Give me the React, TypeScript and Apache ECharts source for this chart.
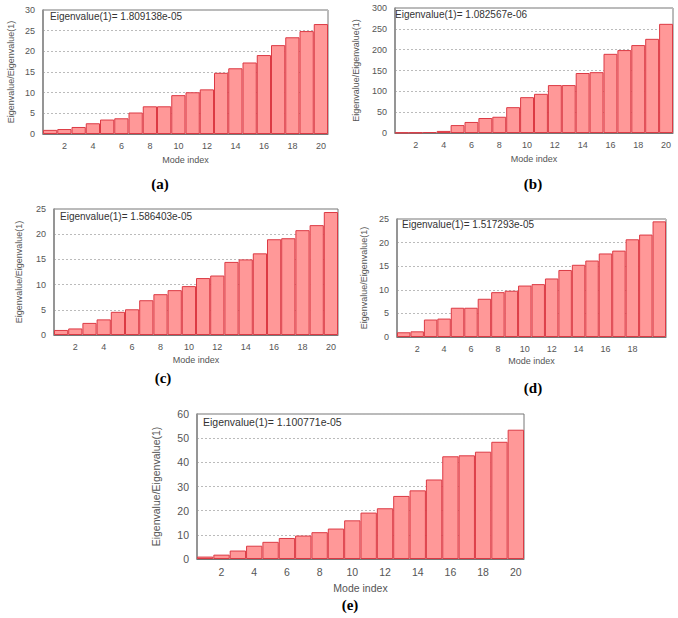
import React, { useEffect, useRef } from "react";
import * as echarts from "echarts";

const modes = Array.from({ length: 20 }, (_, i) => String(i + 1));

const valuesA = [1, 1.2, 1.7, 2.6, 3.5, 3.8, 5.2, 6.7, 6.7, 9.4, 10.1, 10.8, 14.8, 15.9, 17.3, 19.1, 21.5, 23.4, 24.9, 26.6];
const valuesB = [1, 1.2, 2.4, 5, 19, 26.5, 36, 39, 62, 86, 94, 115, 115, 144, 146, 190, 199, 211, 226, 262];
const valuesC = [1, 1.3, 2.4, 3.1, 4.6, 5.1, 6.9, 8.1, 8.9, 9.7, 11.3, 11.8, 14.5, 15.0, 16.2, 19.0, 19.2, 20.8, 21.8, 24.4];
const valuesD = [1, 1.2, 3.7, 3.9, 6.2, 6.2, 8.1, 9.5, 9.8, 10.9, 11.2, 12.4, 14.2, 15.3, 16.2, 17.7, 18.3, 20.7, 21.7, 24.5];
const valuesE = [1, 1.8, 3.5, 5.5, 7.1, 8.7, 9.7, 11.1, 12.6, 16.0, 19.2, 21.0, 26.1, 28.4, 32.9, 42.5, 42.9, 44.4, 48.5, 53.5];

const yMax = [30, 300, 25, 25, 60];
const yStep = [5, 50, 5, 5, 10];
const annotations = [
  "Eigenvalue(1)= 1.809138e-05",
  "Eigenvalue(1)= 1.082567e-06",
  "Eigenvalue(1)= 1.586403e-05",
  "Eigenvalue(1)= 1.517293e-05",
  "Eigenvalue(1)= 1.100771e-05",
];
const captions = ["(a)", "(b)", "(c)", "(d)", "(e)"];
const yTitle = "Eigenvalue/Eigenvalue(1)";
const xTitle = "Mode index";

const allValues = [valuesA, valuesB, valuesC, valuesD, valuesE];

// layout
const grids = [
  { left: 43, top: 10, width: 285, height: 124 },
  { left: 395, top: 8, width: 278, height: 125 },
  { left: 54, top: 209, width: 284, height: 126 },
  { left: 397, top: 219, width: 269, height: 118 },
  { left: 197, top: 414, width: 327, height: 145 },
];
const fontSizes = [9, 9, 9, 9, 10.5];
const annoFontSizes = [10, 10, 10, 10, 10.5];
const yNameGaps = [28, 35, 31, 29, 36];
const xNameGaps = [21, 21, 20, 19, 23];
const annoPos = [
  [50, 17], [395, 15], [60, 217], [402, 225], [203, 423],
];
const capPos = [
  [160, 184], [533, 184], [163, 378], [533, 388], [350, 605],
];

const FONT = "'Liberation Sans', Arial, sans-serif";
const TXT = "#555";

export default function App() {
  const ref = useRef<HTMLDivElement>(null);
  useEffect(() => {
    if (!ref.current) return;
    const chart = echarts.init(ref.current, null, { renderer: "svg" });
    const option: any = {
      animation: false,
      backgroundColor: "#fff",
      textStyle: { fontFamily: FONT },
      grid: grids.map((g) => ({
        ...g,
        show: true,
        borderColor: "#777",
        borderWidth: 1,
        backgroundColor: "transparent",
      })),
      xAxis: grids.map((_, i) => ({
        type: "category",
        gridIndex: i,
        data: modes,
        boundaryGap: true,
        name: xTitle,
        nameLocation: "middle",
        nameGap: xNameGaps[i],
        nameTextStyle: { color: TXT, fontSize: fontSizes[i], fontFamily: FONT },
        axisLine: { show: true, lineStyle: { color: "#777" } },
        axisTick: { show: false },
        axisLabel: {
          color: TXT,
          fontSize: fontSizes[i],
          fontFamily: FONT,
          margin: 7,
          interval: (idx: number) => idx % 2 === 1 && !(i === 3 && idx === 19),
        },
        splitLine: { show: false },
      })),
      yAxis: grids.map((_, i) => ({
        type: "value",
        gridIndex: i,
        min: 0,
        max: yMax[i],
        interval: yStep[i],
        name: yTitle,
        nameLocation: "middle",
        nameGap: yNameGaps[i],
        nameTextStyle: { color: TXT, fontSize: fontSizes[i], fontFamily: FONT },
        axisLine: { show: true, lineStyle: { color: "#888", width: 1.5 } },
        axisTick: { show: false },
        axisLabel: { color: TXT, fontSize: fontSizes[i], fontFamily: FONT, margin: 8 },
        splitLine: { show: true, lineStyle: { color: "#bbb", type: [2, 2], width: 1 } },
      })),
      series: allValues.map((vals, i) => ({
        type: "bar",
        xAxisIndex: i,
        yAxisIndex: i,
        data: vals,
        barCategoryGap: "0%",
        itemStyle: { color: "#ff9898", borderColor: "#dc3a44", borderWidth: 1 },
        silent: true,
      })),
      graphic: [
        ...annotations.map((t, i) => ({
          type: "text",
          left: annoPos[i][0],
          top: annoPos[i][1] - annoFontSizes[i] / 2 - 1,
          style: { text: t, fill: "#333", fontSize: annoFontSizes[i], fontFamily: FONT },
        })),
        ...captions.map((t, i) => ({
          type: "text",
          x: capPos[i][0],
          y: capPos[i][1],
          style: {
            text: t,
            fill: "#000",
            fontSize: 15,
            fontWeight: "bold",
            fontFamily: "'Liberation Serif', 'Times New Roman', serif",
            align: "center",
            verticalAlign: "middle",
          },
        })),
      ],
    };
    chart.setOption(option);
    return () => chart.dispose();
  }, []);
  return (
    <div
      ref={ref}
      style={{ position: "fixed", left: 0, top: 0, width: 678, height: 618, background: "#fff" }}
    />
  );
}
